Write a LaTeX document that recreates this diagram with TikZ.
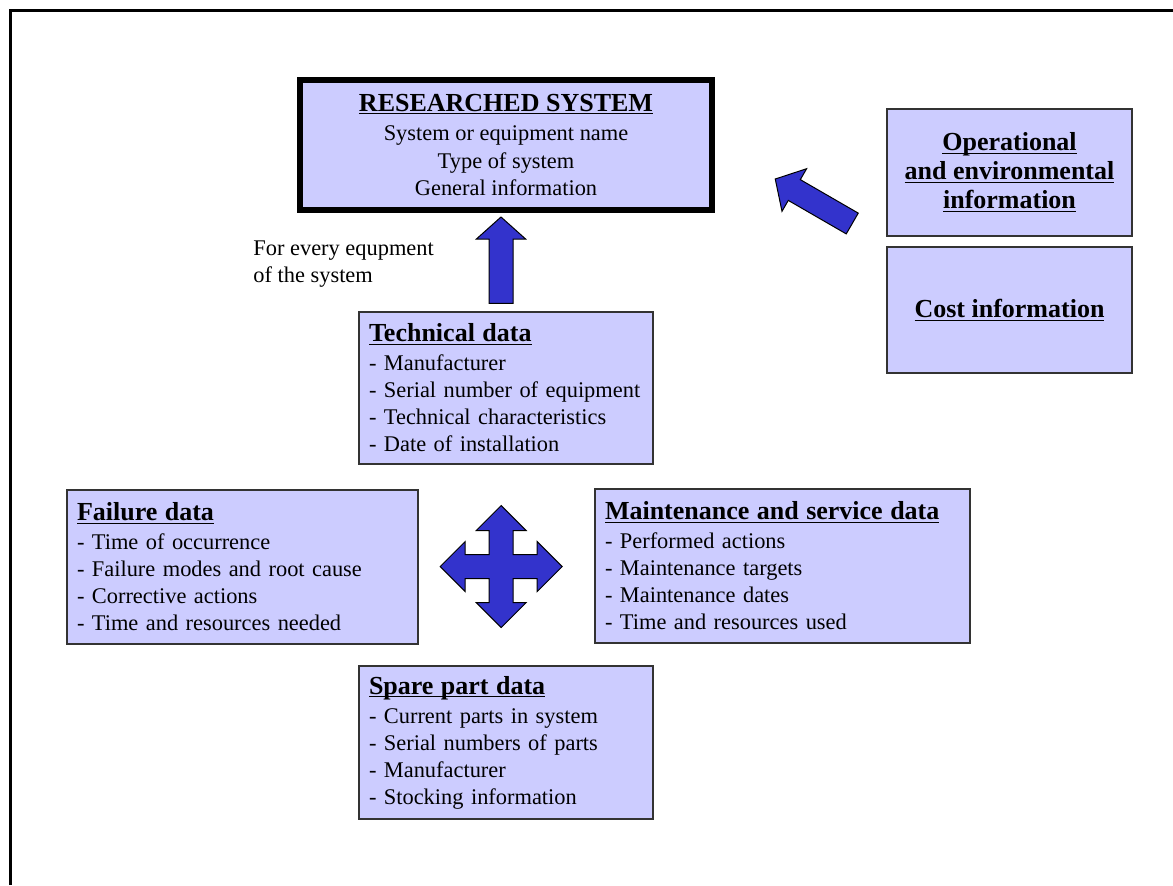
\documentclass[tikz,border=0pt]{standalone}
\usepackage{fontspec}
\setmainfont{Liberation Serif}
\usetikzlibrary{calc}
\definecolor{boxfill}{HTML}{CCCCFF}
\definecolor{arrowfill}{HTML}{3333CC}
\newcommand{\bodysize}{\fontsize{11.2}{13.5}\selectfont}
\newcommand{\headsize}{\fontsize{13}{14.5}\selectfont\bfseries}
\newlength{\ulwidth}
\newcommand{\ulbox}[1]{\settowidth{\ulwidth}{#1}\rlap{\rule[-1.6pt]{\ulwidth}{0.55pt}}#1}
\newcommand{\boxhead}[1]{{\headsize\ulbox{#1}}}
% block arrow from tail #1 to tip #2
\newcommand{\blockarrow}[2]{%
  \coordinate (headbase) at ($(#2)!11pt!(#1)$);
  \draw[bigarrow] ($(#1)!6pt!90:(#2)$) -- ($(headbase)!6pt!90:(#2)$)
    -- ($(headbase)!12.3pt!90:(#2)$) -- (#2)
    -- ($(headbase)!12.3pt!-90:(#2)$) -- ($(headbase)!6pt!-90:(#2)$)
    -- ($(#1)!6pt!-90:(#2)$) -- cycle;}
\begin{document}
\begin{tikzpicture}[x=0.5pt,y=-0.5pt,
  infobox/.style={draw=black!80, line width=0.75pt, fill=boxfill, inner xsep=5pt, inner ysep=0pt, font=\bodysize, align=left},
  sysbox/.style={draw=black, line width=3pt, fill=boxfill, align=center, font=\fontsize{11.2}{13.8}\selectfont, minimum width=206pt, minimum height=65pt},
  sidebox/.style={draw=black!80, line width=0.75pt, fill=boxfill, align=center, font=\headsize, minimum width=122.5pt},
  bigarrow/.style={draw=black, line width=0.5pt, fill=arrowfill, line join=miter}]
\useasboundingbox (0,0) rectangle (1173,885);
\draw[line width=1.5pt] (10.5,885) -- (10.5,10.5) -- (1173,10.5);
% boxes
\node[sysbox] (sys) at (506,145) {\boxhead{RESEARCHED SYSTEM}\\[1pt]System or equipment name\\Type of system\\General information};
\node[infobox, text width=137pt, minimum height=76pt] (tech) at (506,388) {\boxhead{Technical data}\\[1pt]- Manufacturer\\- Serial number of equipment\\- Technical characteristics\\- Date of installation};
\node[infobox, text width=165.5pt, minimum height=77pt] (fail) at (242.5,567) {\boxhead{Failure data}\\[1pt]- Time of occurrence\\- Failure modes and root cause\\- Corrective actions\\- Time and resources needed};
\node[infobox, text width=177.5pt, minimum height=77pt] (maint) at (782.5,566) {\boxhead{Maintenance and service data}\\[1pt]- Performed actions\\- Maintenance targets\\- Maintenance dates\\- Time and resources used};
\node[infobox, text width=137pt, minimum height=76.5pt] (spare) at (506,742.5) {\boxhead{Spare part data}\\[1pt]- Current parts in system\\- Serial numbers of parts\\- Manufacturer\\- Stocking information};
\node[sidebox, minimum height=63.5pt] (oper) at (1009.5,172.5) {\ulbox{Operational}\\\ulbox{and environmental}\\\ulbox{information}};
\node[sidebox, minimum height=63pt] (cost) at (1009.5,310) {\ulbox{Cost information}};
\node[font=\bodysize, align=left, anchor=west, inner sep=0pt] (note) at (253,264) {For every equpment\\of the system};
% arrows
\coordinate (uptail) at ($(tech.north)+(-5,-8)$);
\coordinate (uptip) at ($(sys.south)+(-5,4)$);
\blockarrow{uptail}{uptip}
\coordinate (diagtail) at ($(oper.west)+(-34,51)$);
\coordinate (diagtip) at ($(oper.west)+(-111,6.5)$);
\blockarrow{diagtail}{diagtip}
\coordinate (cross) at ($(fail.east)!0.47!(maint.west)$);
\begin{scope}[shift={(cross)}]
\draw[bigarrow] (12,12) \foreach \a in {0,90,180,270} {
  -- ([rotate=\a]36,12) -- ([rotate=\a]36,25) -- ([rotate=\a]61,0)
  -- ([rotate=\a]36,-25) -- ([rotate=\a]36,-12) -- ([rotate=\a]12,-12)} -- cycle;
\end{scope}
\end{tikzpicture}
\end{document}
